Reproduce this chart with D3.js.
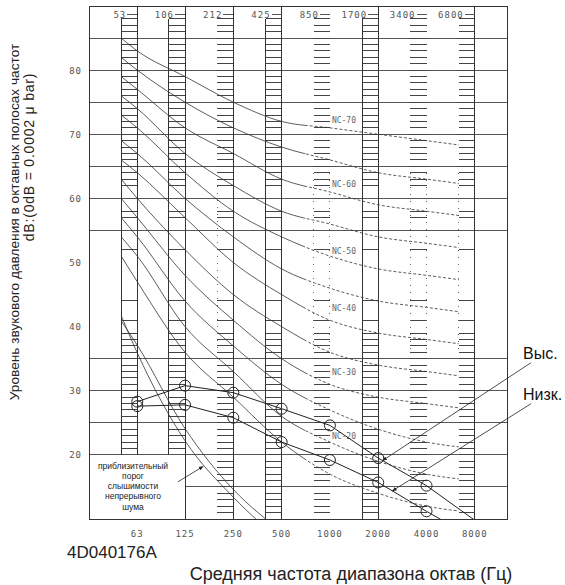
<!DOCTYPE html>
<html>
<head>
<meta charset="utf-8">
<script src="https://cdn.jsdelivr.net/npm/d3@7"></script>
<style>
  body { margin: 0; background: #fff; }
  svg { display: block; }
</style>
</head>
<body>
<div id="chart"></div>
<script>
// octave bands: centre frequency (bottom labels) and band-edge labels (top)
const bandCenters = [63, 125, 250, 500, 1000, 2000, 4000, 8000];
const bandEdgeLabels = ['53', '106', '212', '425', '850', '1700', '3400', '6800'];
const yTickValues = [20, 30, 40, 50, 60, 70, 80];
const gridLevels = [85, 80, 75, 70, 65, 60, 55, 35, 30, 25, 20];
const partialGridLevels = [15];

// short hatch marks inside each band column (dB)
const hatchLevels = [88, 87, 86, 85, 84, 83, 82, 81, 80, 79, 78, 77, 76, 75, 74, 73, 72, 71,
  70, 69, 68, 67, 66, 65, 64, 63, 62, 58, 57, 52, 44, 41,
  39, 38, 37, 36, 35, 34, 33, 32, 31, 30, 29, 28, 27, 26, 25, 24, 23, 22, 21, 20,
  19, 18, 17, 16, 15, 14, 13, 12, 11];
const hatchFloor = [20, 20, 10, 10, 10, 10, 10, 10];

// column boundary lines per band: [top dB, bottom dB]
const centerLineSpan = [[90, 20], [90, 10], [90, 10], [90, 10], [64, 36], [90, 10], [64, 36], [90, 10]];
const centerLineDotted = [false, false, false, false, true, false, true, false];
const edgeLineSpan = [[88, 20], [88, 20], [62, 36], [88, 10], [64, 36], [88, 10], [64, 36], [64, 36]];
const edgeLineDotted = [false, false, true, false, true, false, true, true];

// NC curves
const ncNames = ['NC-70', 'NC-65', 'NC-60', 'NC-55', 'NC-50', 'NC-45', 'NC-40', 'NC-35', 'NC-30', 'NC-25', 'NC-20', 'NC-15'];
const ncStart = [85, 82, 79, 76, 73, 69, 66, 63, 60, 57, 54, 51];   // at column edge, 50 Hz
const ncValues = [
  [83, 79, 75, 72, 71, 70, 69, 68],
  [80, 75, 71, 68, 66, 64, 63, 62],
  [77, 71, 67, 63, 61, 59, 58, 57],
  [74, 67, 62, 58, 56, 54, 53, 52],
  [71, 64, 58, 54, 51, 49, 48, 47],
  [67, 60, 54, 49, 46, 44, 43, 42],
  [64, 57, 50, 45, 41, 39, 38, 37],
  [60, 52, 45, 40, 36, 34, 33, 32],
  [57, 48, 41, 35, 31, 29, 28, 27],
  [54, 44, 37, 31, 27, 24, 22, 21],
  [51, 40, 33, 26, 22, 19, 17, 16],
  [47, 36, 29, 22, 17, 14, 12, 11],
];
const ncLabelDb = [72.3, null, 62.2, null, 51.8, null, 42.9, null, 32.9, null, 23.0, null];

// measured unit spectra
const highLevels = [28.3, 30.8, 29.7, 27.2, 24.6, 19.5, 15.2, 9.8];
const lowLevels = [27.6, 27.8, 25.8, 22.0, 19.2, 15.7, 11.2, 6.9];
const measuredBands = 7;

// approximate threshold of hearing for continuous noise (two traces)
const thresholdFreqs = [50, 63, 125, 250, 500];
const thresholdA = [41.7, 35.9, 22.2, 13.4, 6.5];
const thresholdB = [40.9, 37.1, 24.1, 14.6, 8.1];
const thresholdText = ['приблизительный', 'порог', 'слышимости', 'непрерывного', 'шума'];

const cfg = {
  width: 565, height: 585,
  plot: { left: 89, right: 507, top: 6, bottom: 519 },
  thirdOctave: Math.pow(2, -1 / 3),
  dashFrom: 700,
};

const svg = d3.select('#chart')
  .append('svg')
  .attr('width', cfg.width)
  .attr('height', cfg.height)
  ;

const xScale = d3.scaleLog().base(2).domain([31.5, 12700]).range([cfg.plot.left, cfg.plot.right]);
const yScale = d3.scaleLinear().domain([10, 90]).range([cfg.plot.bottom, cfg.plot.top]);
const colLeft = f => xScale(f * cfg.thirdOctave);

const smallFont = '"DejaVu Sans Mono", monospace';
const sansFont = '"Liberation Sans", Arial, sans-serif';

// clip paths
const defs = svg.append('defs');
defs.append('clipPath').attr('id', 'plotClip')
  .append('rect')
  .attr('x', cfg.plot.left).attr('y', cfg.plot.top)
  .attr('width', cfg.plot.right - cfg.plot.left)
  .attr('height', cfg.plot.bottom - cfg.plot.top);
defs.append('clipPath').attr('id', 'solidClip')
  .append('rect')
  .attr('x', colLeft(63)).attr('y', cfg.plot.top)
  .attr('width', xScale(cfg.dashFrom) - colLeft(63))
  .attr('height', cfg.plot.bottom - cfg.plot.top);
defs.append('clipPath').attr('id', 'dashClip')
  .append('rect')
  .attr('x', xScale(cfg.dashFrom)).attr('y', cfg.plot.top)
  .attr('width', colLeft(8000) - xScale(cfg.dashFrom))
  .attr('height', cfg.plot.bottom - cfg.plot.top);
defs.append('marker')
  .attr('id', 'arrow')
  .attr('viewBox', '0 0 10 10')
  .attr('refX', 9).attr('refY', 5)
  .attr('markerWidth', 6).attr('markerHeight', 6)
  .attr('orient', 'auto')
  .append('path')
  .attr('d', 'M0,1 L10,5 L0,9 Z')
  .attr('fill', '#222');

// horizontal grid
const grid = svg.append('g').attr('class', 'grid').attr('shape-rendering', 'crispEdges');
grid.selectAll('line.full')
  .data(gridLevels)
  .join('line')
  .attr('class', 'full')
  .attr('x1', cfg.plot.left).attr('x2', cfg.plot.right)
  .attr('y1', d => yScale(d)).attr('y2', d => yScale(d))
  .style('stroke', '#555').style('stroke-width', 1)
  ;
grid.selectAll('line.part')
  .data(partialGridLevels)
  .join('line')
  .attr('class', 'part')
  .attr('x1', xScale(125)).attr('x2', cfg.plot.right)
  .attr('y1', d => yScale(d)).attr('y2', d => yScale(d))
  .style('stroke', '#555').style('stroke-width', 1)
  ;

// band columns: hatches and boundary lines
const cols = svg.append('g').attr('class', 'columns').attr('shape-rendering', 'crispEdges');
bandCenters.forEach((f, i) => {
  const g = cols.append('g');
  g.selectAll('line.hatch')
    .data(hatchLevels.filter(v => v > hatchFloor[i]))
    .join('line')
    .attr('class', 'hatch')
    .attr('x1', colLeft(f)).attr('x2', xScale(f))
    .attr('y1', d => yScale(d)).attr('y2', d => yScale(d))
    .style('stroke', '#444').style('stroke-width', 1)
    ;
  g.append('line')
    .attr('x1', xScale(f)).attr('x2', xScale(f))
    .attr('y1', yScale(centerLineSpan[i][0])).attr('y2', yScale(centerLineSpan[i][1]))
    .style('stroke', centerLineDotted[i] ? '#666' : '#333')
    .style('stroke-width', 1)
    .style('stroke-dasharray', centerLineDotted[i] ? '1,6' : null)
    ;
  g.append('line')
    .attr('x1', colLeft(f)).attr('x2', colLeft(f))
    .attr('y1', yScale(edgeLineSpan[i][0])).attr('y2', yScale(edgeLineSpan[i][1]))
    .style('stroke', edgeLineDotted[i] ? '#666' : '#333')
    .style('stroke-width', 1)
    .style('stroke-dasharray', edgeLineDotted[i] ? '1,6' : null)
    ;
});

// threshold label text (box sides come from column/grid lines)
svg.append('g').attr('class', 'threshold-text')
  .selectAll('text')
  .data(thresholdText)
  .join('text')
  .attr('x', 133)
  .attr('y', (d, i) => yScale(20) + 14 + i * 10.2)
  .attr('text-anchor', 'middle')
  .style('font-family', sansFont)
  .style('font-size', '8.5px')
  .style('fill', '#222')
  .text(d => d)
  ;

// frame
svg.append('rect')
  .attr('x', cfg.plot.left).attr('y', cfg.plot.top)
  .attr('width', cfg.plot.right - cfg.plot.left)
  .attr('height', cfg.plot.bottom - cfg.plot.top)
  .attr('shape-rendering', 'crispEdges')
  .style('fill', 'none').style('stroke', '#333').style('stroke-width', 1)
  ;

// NC curves
const ncLine = d3.line()
  .x(d => xScale(d.f))
  .y(d => yScale(d.v))
  .curve(d3.curveMonotoneX);
const ncData = ncNames.map((name, i) => ({
  name,
  pts: [{ f: 50, v: ncStart[i] }].concat(bandCenters.map((f, j) => ({ f, v: ncValues[i][j] }))),
}));
const ncGroup = svg.append('g').attr('class', 'nc-curves');
ncGroup.append('g').attr('clip-path', 'url(#solidClip)')
  .selectAll('path')
  .data(ncData)
  .join('path')
  .attr('d', d => ncLine(d.pts))
  .style('fill', 'none').style('stroke', '#333').style('stroke-width', 0.8)
  ;
ncGroup.append('g').attr('clip-path', 'url(#dashClip)')
  .selectAll('path')
  .data(ncData)
  .join('path')
  .attr('d', d => ncLine(d.pts))
  .style('fill', 'none').style('stroke', '#333').style('stroke-width', 0.8)
  .style('stroke-dasharray', '3,2')
  ;
ncGroup.selectAll('text')
  .data(ncNames.map((n, i) => ({ n, db: ncLabelDb[i] })).filter(d => d.db !== null))
  .join('text')
  .attr('x', xScale(1000) + 2)
  .attr('y', d => yScale(d.db) + 3)
  .style('font-family', smallFont)
  .style('font-size', '8px')
  .style('fill', '#666')
  .text(d => d.n)
  ;

// threshold of hearing
const thrLine = d3.line().x(d => xScale(d[0])).y(d => yScale(d[1])).curve(d3.curveMonotoneX);
svg.append('g').attr('class', 'threshold').attr('clip-path', 'url(#plotClip)')
  .selectAll('path')
  .data([thresholdA, thresholdB])
  .join('path')
  .attr('d', d => thrLine(thresholdFreqs.map((f, i) => [f, d[i]])))
  .style('fill', 'none').style('stroke', '#333').style('stroke-width', 0.8)
  ;
svg.append('line')
  .attr('x1', xScale(113)).attr('y1', yScale(15.8))
  .attr('x2', xScale(162)).attr('y2', yScale(18.2))
  .attr('marker-end', 'url(#arrow)')
  .style('stroke', '#222').style('stroke-width', 0.8)
  ;

// measured spectra
const series = [
  { name: 'Выс.', values: highLevels, labelDb: 35, leaderF: 2130 },
  { name: 'Низк.', values: lowLevels, labelDb: 28.6, leaderF: 2450 },
];
const mLine = d3.line().x(d => xScale(d[0])).y(d => yScale(d[1]));
const mGroup = svg.append('g').attr('class', 'measured');
series.forEach(s => {
  const pts = bandCenters.map((f, i) => [f, s.values[i]]);
  mGroup.append('path')
    .attr('clip-path', 'url(#plotClip)')
    .attr('d', mLine(pts))
    .style('fill', 'none').style('stroke', '#222').style('stroke-width', 1)
    ;
  mGroup.append('g')
    .selectAll('circle')
    .data(pts.slice(0, measuredBands))
    .join('circle')
    .attr('cx', d => xScale(d[0]))
    .attr('cy', d => yScale(d[1]))
    .attr('r', 5.5)
    .style('fill', 'none').style('stroke', '#222').style('stroke-width', 1)
    ;
  // leader end point on the line
  const k = d3.bisectRight(bandCenters, s.leaderF) - 1;
  const t = (Math.log2(s.leaderF) - Math.log2(bandCenters[k])) / (Math.log2(bandCenters[k + 1]) - Math.log2(bandCenters[k]));
  const endDb = s.values[k] + t * (s.values[k + 1] - s.values[k]);
  const lx = cfg.plot.right + 16;
  const ly = yScale(s.labelDb);
  mGroup.append('text')
    .attr('x', lx).attr('y', ly)
    .style('font-family', sansFont)
    .style('font-size', '16px')
    .style('fill', '#111')
    .text(s.name)
    ;
  mGroup.append('line')
    .attr('x1', lx + 8).attr('y1', ly + 4)
    .attr('x2', xScale(s.leaderF)).attr('y2', yScale(endDb))
    .attr('marker-end', 'url(#arrow)')
    .style('stroke', '#222').style('stroke-width', 0.8)
    ;
});

// tick labels
svg.append('g').attr('class', 'y-ticks')
  .selectAll('text')
  .data(yTickValues)
  .join('text')
  .attr('x', 82)
  .attr('y', d => yScale(d) + 3.5)
  .attr('text-anchor', 'end')
  .style('font-family', smallFont)
  .style('font-size', '9px')
  .style('letter-spacing', '1px')
  .style('fill', '#555')
  .text(d => d)
  ;
svg.append('g').attr('class', 'x-ticks')
  .selectAll('text')
  .data(bandCenters)
  .join('text')
  .attr('x', d => xScale(d))
  .attr('y', cfg.plot.bottom + 18)
  .attr('text-anchor', 'middle')
  .style('font-family', smallFont)
  .style('font-size', '9px')
  .style('letter-spacing', '1px')
  .style('fill', '#555')
  .text(d => d)
  ;
const edgeTicks = svg.append('g').attr('class', 'edge-ticks');
edgeTicks.selectAll('text')
  .data(bandCenters)
  .join('text')
  .attr('x', d => xScale(d) - 11)
  .attr('y', cfg.plot.top + 11.5)
  .attr('text-anchor', 'end')
  .style('font-family', smallFont)
  .style('font-size', '9px')
  .style('letter-spacing', '1px')
  .style('fill', '#555')
  .text((d, i) => bandEdgeLabels[i])
  ;
edgeTicks.selectAll('line')
  .data(bandCenters)
  .join('line')
  .attr('x1', d => xScale(d) - 10).attr('x2', d => xScale(d))
  .attr('y1', cfg.plot.top + 8).attr('y2', cfg.plot.top + 8)
  .attr('shape-rendering', 'crispEdges')
  .style('stroke', '#555').style('stroke-width', 1)
  ;

// titles
svg.append('text')
  .attr('transform', 'translate(19,222) rotate(-90)')
  .attr('text-anchor', 'middle')
  .style('font-family', sansFont).style('font-size', '13.7px').style('fill', '#222')
  .text('Уровень звукового давления в октавных полосах частот');
svg.append('text')
  .attr('transform', 'translate(34,157) rotate(-90)')
  .attr('text-anchor', 'middle')
  .style('font-family', sansFont).style('font-size', '14px').style('letter-spacing', '0.8px').style('fill', '#222')
  .text('dB:(0dB = 0.0002 μ bar)');
svg.append('text')
  .attr('x', 67).attr('y', 558)
  .style('font-family', sansFont).style('font-size', '17px').style('fill', '#222')
  .text('4D040176A');
svg.append('text')
  .attr('x', 351).attr('y', 580)
  .attr('text-anchor', 'middle')
  .style('font-family', sansFont).style('font-size', '18px').style('fill', '#222')
  .text('Средняя частота диапазона октав (Гц)');
</script>
</body>
</html>
